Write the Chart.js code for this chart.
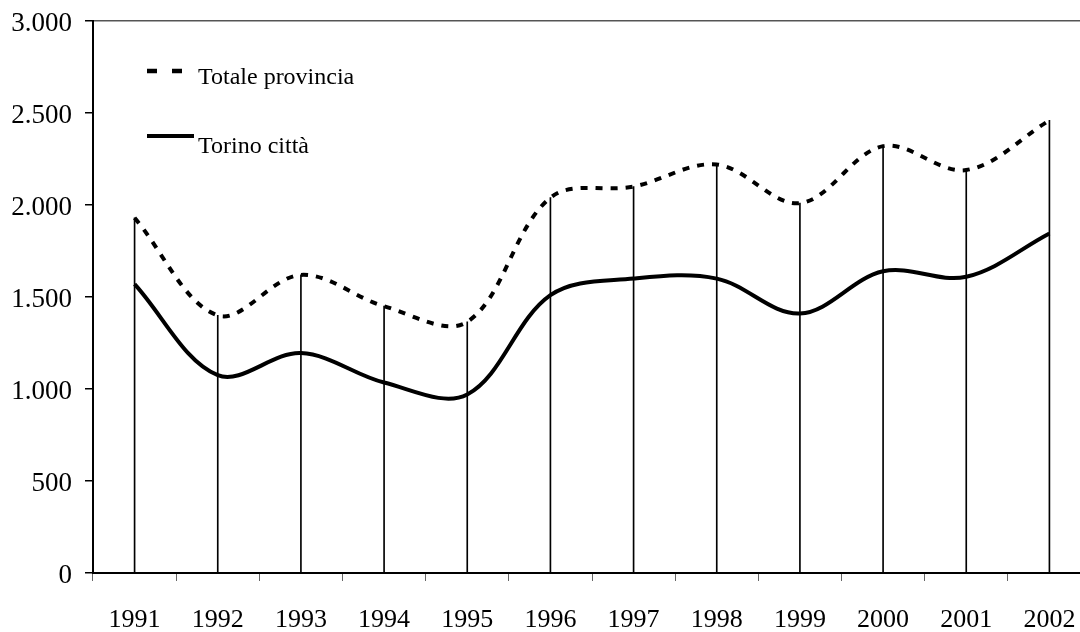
<!DOCTYPE html>
<html>
<head>
<meta charset="utf-8">
<script src="https://cdn.jsdelivr.net/npm/chart.js@4.4.1/dist/chart.umd.min.js"></script>
<style>
  html, body { margin: 0; padding: 0; background: #fff; overflow: hidden; width: 1080px; height: 632px; }
  #wrap { position: relative; width: 1080px; height: 632px; overflow: hidden; }
  canvas { position: absolute; left: 0; top: 0; }
  .leg { position: absolute; font-family: "Liberation Serif", "Times New Roman", serif; font-size: 24px; line-height: 24px; color: #000; white-space: nowrap; }
  svg { position: absolute; left: 0; top: 0; }
</style>
</head>
<body>
<div id="wrap">
  <canvas id="c" width="1091" height="632" style="width:1091px;height:632px"></canvas>
  <svg width="1080" height="632" style="pointer-events:none">
    <line x1="147" y1="71" x2="182" y2="71" stroke="#000" stroke-width="4.5" stroke-dasharray="10 15"/>
    <line x1="147" y1="136" x2="194" y2="136" stroke="#000" stroke-width="4"/>
  </svg>
  <div class="leg" style="left:198px; top:64px;">Totale provincia</div>
  <div class="leg" style="left:198px; top:133px;">Torino città</div>
</div>
<script>
const years = ['1991','1992','1993','1994','1995','1996','1997','1998','1999','2000','2001','2002'];
const totaleProvincia = [1930, 1400, 1620, 1450, 1365, 2040, 2100, 2220, 2010, 2320, 2190, 2460];
const torinoCitta = [1570, 1075, 1195, 1035, 970, 1510, 1600, 1600, 1410, 1640, 1610, 1845];
const yTicks = [0, 500, 1000, 1500, 2000, 2500, 3000];

const fmt = v => String(v).replace(/\B(?=(\d{3})+(?!\d))/g, '.');
const FAM = '"Liberation Serif", "Times New Roman", serif';

new Chart(document.getElementById('c'), {
  type: 'bar',
  data: {
    labels: years,
    datasets: [
      { type: 'line', label: 'Totale provincia', data: totaleProvincia, borderColor: '#000', borderWidth: 4,
        borderDash: [7, 8], borderCapStyle: 'butt', pointRadius: 0, tension: 0.35, fill: false, order: 1 },
      { type: 'line', label: 'Torino città', data: torinoCitta, borderColor: '#000', borderWidth: 4,
        pointRadius: 0, tension: 0.35, fill: false, order: 2 },
      { type: 'bar', label: 'drop', data: totaleProvincia, backgroundColor: '#000', barThickness: 1, order: 3 }
    ]
  },
  options: {
    responsive: false,
    animation: false,
    devicePixelRatio: 1,
    layout: { padding: { top: 21, right: 0, left: 0, bottom: 0 } },
    plugins: { legend: { display: false }, tooltip: { enabled: false } },
    scales: {
      x: {
        offset: true,
        grid: { offset: true, drawOnChartArea: false, tickLength: 8, tickColor: '#666', lineWidth: 1 },
        border: { color: '#000', width: 2 },
        ticks: { color: '#000', font: { family: FAM, size: 26 }, padding: 24, maxRotation: 0, autoSkip: false },
        afterFit: s => { s.height = 59; s.paddingLeft = 0; s.paddingRight = 0; }
      },
      y: {
        min: 0, max: 3000,
        afterBuildTicks: s => { s.ticks = yTicks.map(v => ({ value: v })); },
        grid: {
          drawOnChartArea: true, tickLength: 8, tickColor: '#000', lineWidth: 1.5,
          color: c => (c.tick && c.tick.value === 3000) ? '#555' : 'rgba(0,0,0,0)'
        },
        border: { color: '#000', width: 2 },
        ticks: { color: '#000', font: { family: FAM, size: 27 }, padding: 13, labelOffset: 3, callback: v => fmt(v) },
        afterFit: s => { s.width = 93; s.paddingTop = 0; s.paddingBottom = 0; }
      }
    }
  }
});
</script>
</body>
</html>
